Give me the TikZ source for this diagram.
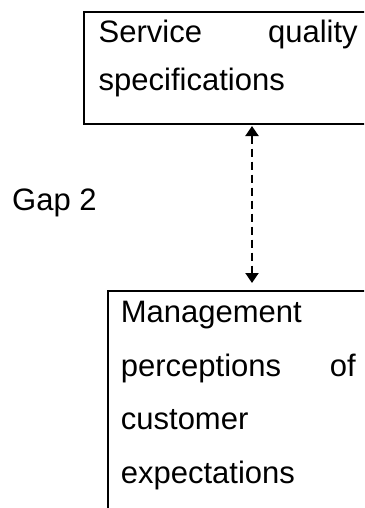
\documentclass[tikz,border=0pt]{standalone}
\usepackage{fontspec}
\setmainfont{Liberation Sans}
\usetikzlibrary{arrows.meta}
\begin{document}
\begin{tikzpicture}[x=1pt,y=-1pt,
  frame/.style={draw, line width=2pt, rectangle, inner sep=0pt, anchor=north west},
  label/.style={anchor=base west, inner sep=0pt},
  gaplink/.style={line width=2pt, dash pattern=on 8pt off 5pt,
    {Triangle[width=13pt,length=10pt]}-{Triangle[width=13pt,length=10pt]}}]
  % page area
  \clip (0,0) rectangle (364,508);
  \fill[white] (0,0) rectangle (364,508);

  % boxes (their right and lower sides run past the page)
  \node[frame, minimum width=320pt, minimum height=112pt] (spec) at (83,11) {};
  \node[frame, minimum width=300pt, minimum height=260pt] (mgmt) at (107,290) {};

  % box texts
  \node[label] (spectext) at (98.5,42.5)
    {\parbox[t]{259pt}{\fontsize{31}{48}\selectfont Service\hfill quality\\ specifications}};
  \node[label] (mgmttext) at (120.7,322.5)
    {\parbox[t]{235pt}{\fontsize{31}{53.5}\selectfont Management\\ perceptions\hfill of\\ customer\\ expectations}};

  % gap label
  \node[label, font=\fontsize{31}{37}\selectfont] (gap) at (12,210) {Gap 2};

  % two-headed dashed link
  \coordinate (ax) at (252,0);
  \draw[gaplink, shorten <=1pt, shorten >=7pt] (spec.south -| ax) -- (mgmt.north -| ax);
\end{tikzpicture}
\end{document}
